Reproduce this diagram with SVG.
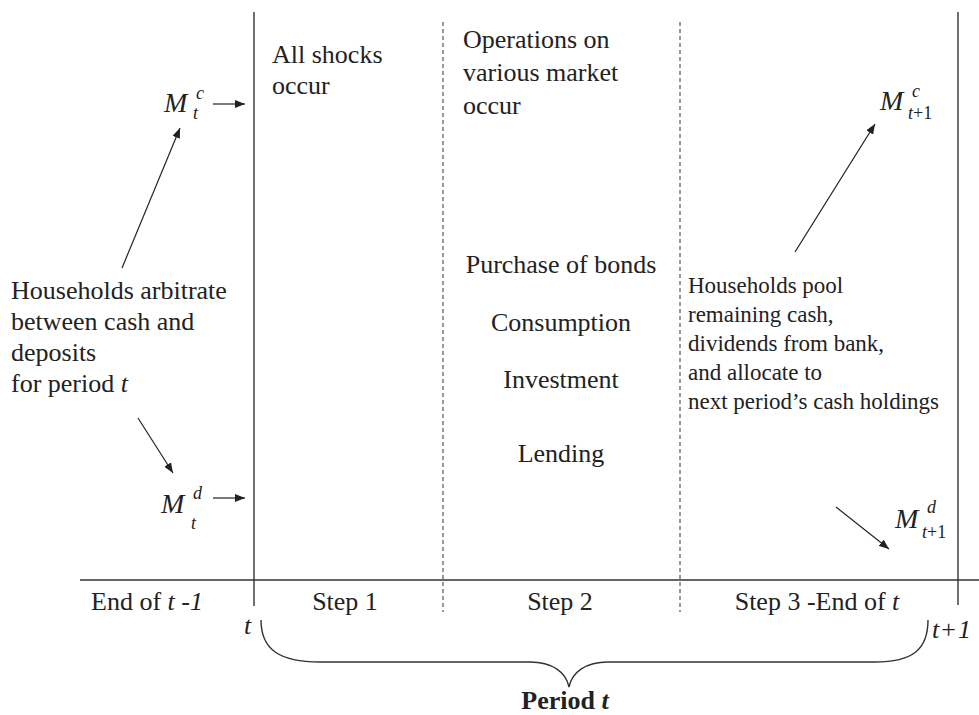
<svg xmlns="http://www.w3.org/2000/svg" width="979" height="715" viewBox="0 0 979 715" font-family="'Liberation Serif', 'Times New Roman', Times, 'DejaVu Serif', serif">
<style>
text{font-family:'Liberation Serif','Times New Roman',Times,'DejaVu Serif',serif;fill:#222}
.t26{font-size:26px}
.t23{font-size:23px}
.it{font-style:italic}
.M{font-size:28px;font-style:italic}
.s{font-size:18px}
.solid{stroke:#333;stroke-width:1.4;fill:none}
.dash{stroke:#333;stroke-width:1;stroke-dasharray:4 3;fill:none}
.arr{stroke:#222;stroke-width:1.2;fill:none;marker-end:url(#ah)}
</style>
<defs>
<marker id="ah" viewBox="0 0 10 8" refX="10" refY="4" markerWidth="10" markerHeight="8" markerUnits="userSpaceOnUse" orient="auto">
<path d="M0,0 L10,4 L0,8 z" fill="#222"/>
</marker>
</defs>
<rect width="979" height="715" fill="#fff"/>
<g id="axes">
<line class="solid" x1="80" y1="580" x2="979" y2="580"/>
<line class="solid" x1="254" y1="12" x2="254" y2="606"/>
<line class="dash" x1="443" y1="22" x2="443" y2="612"/>
<line class="dash" x1="680" y1="22" x2="680" y2="612"/>
<line class="solid" x1="958" y1="12" x2="958" y2="605"/>
</g>
<g id="connectors">
<line class="arr" x1="122" y1="268" x2="180" y2="128"/>
<line class="arr" x1="138" y1="418" x2="173" y2="473"/>
<line class="arr" x1="213" y1="104" x2="245" y2="104"/>
<line class="arr" x1="213" y1="498" x2="245" y2="498"/>
<line class="arr" x1="795" y1="252" x2="875" y2="124"/>
<line class="arr" x1="836" y1="507" x2="889" y2="549"/>
</g>
<g id="Mtc">
<text class="M" x="164" y="112">M</text>
<text class="s it" x="196" y="99">c</text>
<text class="s it" x="193" y="119">t</text>
</g>
<g id="Mtd">
<text class="M" x="161" y="513">M</text>
<text class="s it" x="193" y="499">d</text>
<text class="s it" x="191" y="529">t</text>
</g>
<g id="Mt1c">
<text class="M" x="880" y="110">M</text>
<text class="s it" x="912" y="97">c</text>
<text class="s" x="908" y="119"><tspan class="it">t</tspan>+1</text>
</g>
<g id="Mt1d">
<text class="M" x="895" y="528">M</text>
<text class="s it" x="927" y="513">d</text>
<text class="s" x="922" y="538"><tspan class="it">t</tspan>+1</text>
</g>
<g id="households-arbitrate">
<text class="t26" x="11" y="299">Households arbitrate</text>
<text class="t26" x="11" y="330">between cash and</text>
<text class="t26" x="11" y="361">deposits</text>
<text class="t26" x="11" y="392">for period <tspan class="it">t</tspan></text>
</g>
<g id="step1">
<text class="t26" x="272" y="63">All shocks</text>
<text class="t26" x="272" y="94">occur</text>
</g>
<g id="step2">
<text class="t26" x="463" y="48">Operations on</text>
<text class="t26" x="463" y="81">various market</text>
<text class="t26" x="463" y="114">occur</text>
<g text-anchor="middle">
<text class="t26" x="561" y="273">Purchase of bonds</text>
<text class="t26" x="561" y="331">Consumption</text>
<text class="t26" x="561" y="388">Investment</text>
<text class="t26" x="561" y="462">Lending</text>
</g>
</g>
<g id="step3">
<text class="t23" x="688" y="293">Households pool</text>
<text class="t23" x="688" y="322">remaining cash,</text>
<text class="t23" x="688" y="351">dividends from bank,</text>
<text class="t23" x="688" y="380">and allocate to</text>
<text class="t23" x="688" y="409">next period’s cash holdings</text>
</g>
<g id="labels">
<text class="t26" x="91" y="610">End of <tspan class="it">t</tspan> -<tspan class="it">1</tspan></text>
<text class="t26" x="345" y="610" text-anchor="middle">Step 1</text>
<text class="t26" x="560" y="610" text-anchor="middle">Step 2</text>
<text class="t26" x="817" y="610" text-anchor="middle">Step 3 -End of <tspan class="it">t</tspan></text>
<text class="t26 it" x="244" y="634">t</text>
<text class="t26" x="932" y="638"><tspan class="it">t</tspan><tspan dx="2">+</tspan><tspan class="it" dx="2">1</tspan></text>
</g>
<g id="brace">
<path class="solid" d="M261,620 C261,650 280,662 320,662 L530,662 C552,662 566,672 569,687 C572,672 586,662 608,662 L875,662 C912,662 928,650 928,620"/>
<text x="565" y="709" font-size="26" font-weight="bold" text-anchor="middle">Period <tspan class="it">t</tspan></text>
</g>
</svg>
